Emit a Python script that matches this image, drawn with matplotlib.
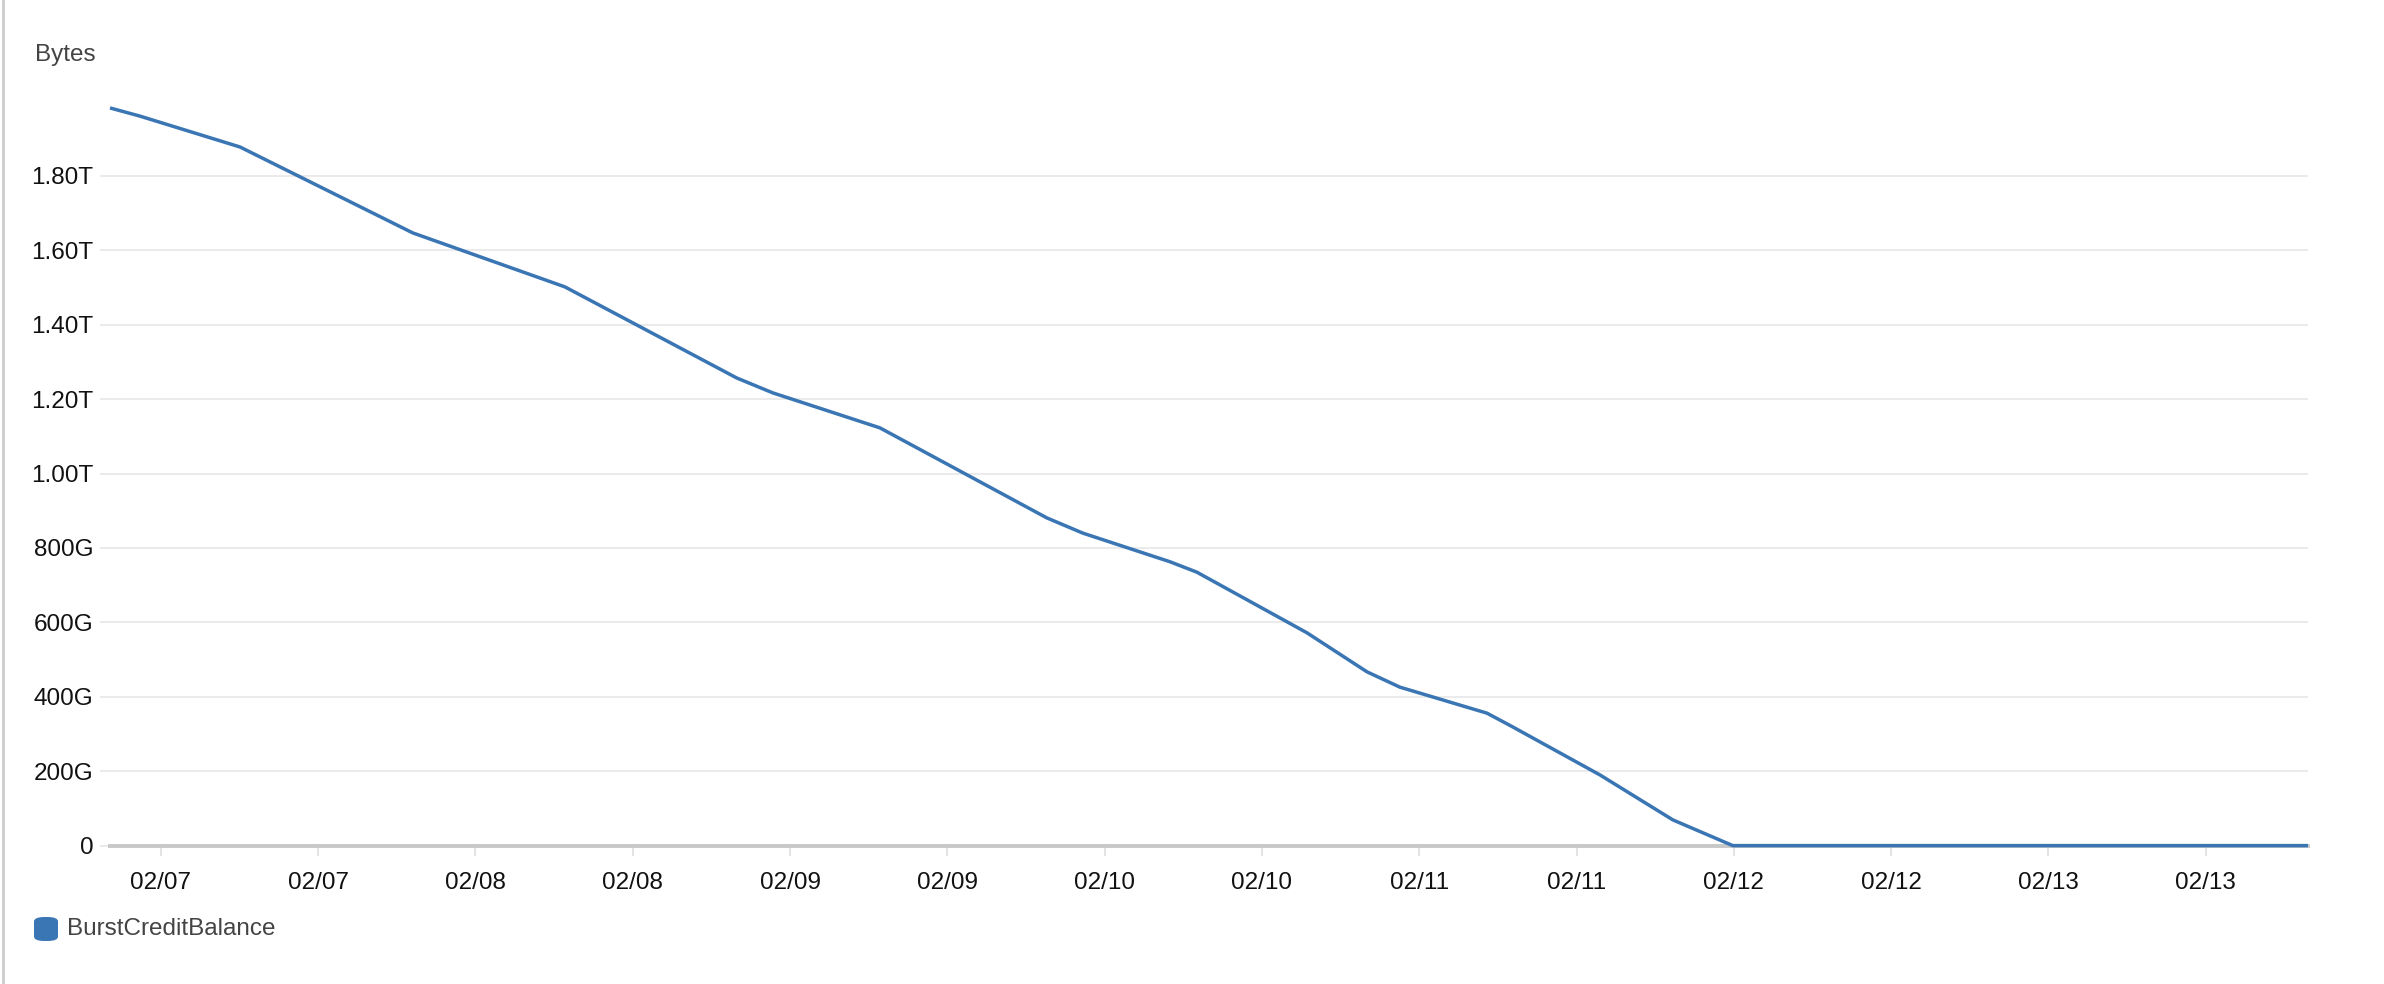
import pandas as pd
import matplotlib
matplotlib.use('Agg')
import matplotlib.pyplot as plt
import matplotlib.dates as mdates
from matplotlib.ticker import FuncFormatter
from matplotlib.patches import FancyBboxPatch

plt.rcParams['font.family'] = ['Liberation Sans', 'DejaVu Sans']

# BurstCreditBalance, values in GB
times = ['2019-02-06 20:07', '2019-02-06 22:24', '2019-02-07 06:02', '2019-02-07 19:13',
         '2019-02-08 06:49', '2019-02-08 19:56', '2019-02-08 22:41', '2019-02-09 06:51',
         '2019-02-09 19:35', '2019-02-09 22:20', '2019-02-10 04:59', '2019-02-10 07:02',
         '2019-02-10 15:26', '2019-02-10 20:01', '2019-02-10 22:31', '2019-02-11 05:10',
         '2019-02-11 07:08', '2019-02-11 13:47', '2019-02-11 19:21', '2019-02-11 23:55',
         '2019-02-13 19:48']
balance_gb = [1983, 1961, 1878, 1647,
              1502, 1257, 1217, 1123,
              881, 840, 763, 735,
              572, 467, 426, 356,
              319, 190, 69, 0,
              0]
y_ticks = [0, 200, 400, 600, 800, 1000, 1200, 1400, 1600, 1800]
series_name = 'BurstCreditBalance'
y_label = 'Bytes'

line_color = '#3a75b4'
grid_color = '#ebebeb'
fs = 17.5


def fmt_bytes(v, pos):
    if v >= 1000:
        return '%.2fT' % (v / 1000)
    if v > 0:
        return '%dG' % v
    return '0'


t = pd.to_datetime(times)

fig = plt.figure(figsize=(23.84, 9.84), dpi=100)
ax = fig.add_axes([110 / 2384, 1 - 845.6 / 984, (2308 - 110) / 2384, (845.6 - 101.6) / 984])

ax.plot(t, balance_gb, color=line_color, lw=2.5, zorder=3, solid_capstyle='butt', clip_on=False)
ax.set_xlim(t[0], t[-1])
ax.set_ylim(0, 2000)

ax.set_yticks(y_ticks)
ax.yaxis.set_major_formatter(FuncFormatter(fmt_bytes))
ax.grid(axis='y', color=grid_color, lw=1.4, zorder=0)
ax.axhline(0, color='#c8c8c8', lw=2.8, zorder=2, clip_on=False)

ax.xaxis.set_major_locator(mdates.HourLocator(byhour=[0, 12]))
ax.xaxis.set_major_formatter(mdates.DateFormatter('%m/%d'))

for s in ax.spines.values():
    s.set_visible(False)

ax.tick_params(axis='y', length=7, width=1.4, color=grid_color, pad=5,
               labelsize=fs, labelcolor='#111111')
ax.tick_params(axis='x', length=7, width=1.4, color='#e4e4e4', pad=12,
               labelsize=fs, labelcolor='#111111')

fig.text(35 / 2384, 1 - 55 / 984, y_label, fontsize=fs, color='#444444',
         ha='left', va='center')

# legend
sq = FancyBboxPatch((34 / 2384, 1 - 941 / 984), 24 / 2384, 24 / 984,
                    boxstyle='round,pad=0,rounding_size=0.0045', transform=fig.transFigure,
                    facecolor=line_color, edgecolor='none')
fig.patches.append(sq)
fig.text(67 / 2384, 1 - 929 / 984, series_name, fontsize=fs, color='#444444',
         ha='left', va='center')

# left panel border
fig.add_artist(plt.Line2D([3 / 2384, 3 / 2384], [0, 1], transform=fig.transFigure,
                          color='#cccccc', lw=2))

fig.savefig('out.png', dpi=100)
